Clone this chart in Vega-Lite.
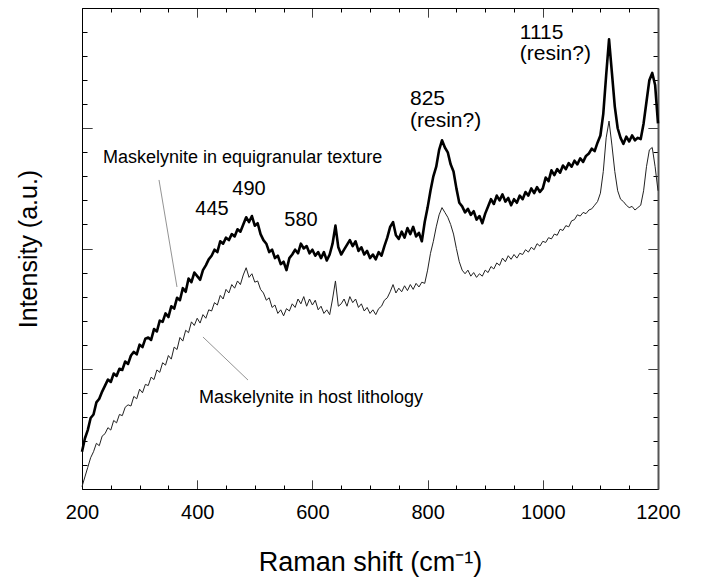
{
"$schema": "https://vega.github.io/schema/vega-lite/v6.json",
"width": 576, "height": 481,
"autosize": {"type": "none"},
"padding": {"left": 82, "top": 8, "right": 43, "bottom": 91},
"background": "white",
"config": {"font": "Liberation Sans", "view": {"stroke": null},
  "axis": {"grid": false, "domainColor": "black", "tickColor": "black", "labelColor": "black", "titleColor": "black", "titleFontWeight": "normal", "domainWidth": 1, "tickWidth": 1}},
"datasets": {"spec": [
{"x":200,"u":1.55,"l":0.10},{"x":205,"u":2.10,"l":0.50},{"x":210,"u":2.45,"l":0.90},{"x":215,"u":2.95,"l":1.30},{"x":220,"u":3.10,"l":1.55},{"x":225,"u":3.60,"l":1.90},{"x":230,"u":3.75,"l":1.80},{"x":235,"u":4.05,"l":2.20},{"x":240,"u":4.30,"l":2.30},{"x":245,"u":4.55,"l":2.55},
{"x":250,"u":4.45,"l":2.45},{"x":255,"u":4.80,"l":2.85},{"x":260,"u":4.70,"l":2.75},{"x":265,"u":5.00,"l":3.10},{"x":270,"u":4.95,"l":3.05},{"x":275,"u":5.30,"l":3.40},{"x":280,"u":5.20,"l":3.50},{"x":285,"u":5.55,"l":3.45},{"x":290,"u":5.70,"l":3.85},{"x":295,"u":5.60,"l":3.75},
{"x":300,"u":6.00,"l":4.15},{"x":305,"u":5.90,"l":4.00},{"x":310,"u":6.25,"l":4.35},{"x":315,"u":6.30,"l":4.30},{"x":320,"u":6.20,"l":4.65},{"x":325,"u":6.65,"l":4.55},{"x":330,"u":6.55,"l":4.95},{"x":335,"u":7.00,"l":4.85},{"x":340,"u":6.95,"l":5.25},{"x":345,"u":7.30,"l":5.15},
{"x":350,"u":7.15,"l":5.55},{"x":355,"u":7.60,"l":5.40},{"x":360,"u":7.50,"l":5.90},{"x":365,"u":7.95,"l":5.80},{"x":370,"u":7.85,"l":6.30},{"x":375,"u":8.35,"l":6.15},{"x":380,"u":8.20,"l":6.60},{"x":385,"u":8.75,"l":6.50},{"x":390,"u":8.60,"l":6.95},{"x":395,"u":9.00,"l":6.80},
{"x":400,"u":8.85,"l":7.10},{"x":405,"u":8.70,"l":6.90},{"x":410,"u":9.10,"l":7.25},{"x":415,"u":9.30,"l":7.10},{"x":420,"u":9.55,"l":7.45},{"x":425,"u":9.70,"l":7.40},{"x":430,"u":9.95,"l":7.75},{"x":435,"u":9.85,"l":7.65},{"x":440,"u":10.30,"l":8.05},{"x":445,"u":10.20,"l":7.90},
{"x":450,"u":10.45,"l":8.30},{"x":455,"u":10.35,"l":8.15},{"x":460,"u":10.60,"l":8.50},{"x":465,"u":10.50,"l":8.35},{"x":470,"u":10.80,"l":8.65},{"x":475,"u":10.70,"l":8.50},{"x":480,"u":11.00,"l":8.90},{"x":485,"u":11.30,"l":9.20},{"x":490,"u":11.10,"l":8.80},{"x":495,"u":11.35,"l":8.95},
{"x":500,"u":10.95,"l":8.60},{"x":505,"u":11.05,"l":8.65},{"x":510,"u":10.60,"l":8.30},{"x":515,"u":10.35,"l":8.15},{"x":520,"u":10.20,"l":7.85},{"x":525,"u":9.85,"l":7.95},{"x":530,"u":9.95,"l":7.55},{"x":535,"u":9.60,"l":7.65},{"x":540,"u":9.70,"l":7.30},{"x":545,"u":9.35,"l":7.45},
{"x":550,"u":9.45,"l":7.20},{"x":555,"u":9.10,"l":7.50},{"x":560,"u":9.60,"l":7.40},{"x":565,"u":9.75,"l":7.70},{"x":570,"u":9.95,"l":7.55},{"x":575,"u":9.80,"l":7.90},{"x":580,"u":10.20,"l":7.70},{"x":585,"u":10.00,"l":8.00},{"x":590,"u":10.10,"l":7.60},{"x":595,"u":9.80,"l":7.90},
{"x":600,"u":9.95,"l":7.65},{"x":605,"u":9.70,"l":7.85},{"x":610,"u":9.85,"l":7.45},{"x":615,"u":9.60,"l":7.60},{"x":620,"u":9.85,"l":7.30},{"x":625,"u":9.50,"l":7.45},{"x":630,"u":9.75,"l":7.25},{"x":635,"u":10.20,"l":7.90},{"x":640,"u":10.95,"l":8.65},{"x":645,"u":10.05,"l":7.60},
{"x":650,"u":9.75,"l":7.70},{"x":655,"u":9.95,"l":7.90},{"x":660,"u":10.15,"l":7.60},{"x":665,"u":10.35,"l":8.00},{"x":670,"u":10.10,"l":7.75},{"x":675,"u":10.30,"l":7.90},{"x":680,"u":9.90,"l":7.55},{"x":685,"u":10.05,"l":7.70},{"x":690,"u":9.75,"l":7.40},{"x":695,"u":9.90,"l":7.55},
{"x":700,"u":9.60,"l":7.30},{"x":705,"u":9.75,"l":7.45},{"x":710,"u":9.55,"l":7.25},{"x":715,"u":9.85,"l":7.50},{"x":720,"u":9.70,"l":7.60},{"x":725,"u":10.10,"l":7.85},{"x":730,"u":10.45,"l":7.95},{"x":735,"u":10.90,"l":8.20},{"x":740,"u":11.10,"l":8.50},{"x":745,"u":10.55,"l":8.15},
{"x":750,"u":10.40,"l":8.35},{"x":755,"u":10.70,"l":8.20},{"x":760,"u":10.45,"l":8.45},{"x":765,"u":10.85,"l":8.25},{"x":770,"u":10.60,"l":8.50},{"x":775,"u":10.90,"l":8.30},{"x":780,"u":10.50,"l":8.55},{"x":785,"u":10.65,"l":8.40},{"x":790,"u":10.30,"l":8.60},{"x":795,"u":11.10,"l":8.55},
{"x":800,"u":11.70,"l":9.10},{"x":805,"u":12.40,"l":9.80},{"x":810,"u":13.00,"l":10.30},{"x":815,"u":13.40,"l":10.90},{"x":820,"u":14.10,"l":11.40},{"x":825,"u":14.50,"l":11.70},{"x":830,"u":14.20,"l":11.50},{"x":835,"u":14.00,"l":11.30},{"x":840,"u":13.50,"l":11.00},{"x":845,"u":13.20,"l":10.60},
{"x":850,"u":12.50,"l":10.00},{"x":855,"u":11.90,"l":9.45},{"x":860,"u":11.75,"l":9.10},{"x":865,"u":11.50,"l":8.95},{"x":870,"u":11.65,"l":9.10},{"x":875,"u":11.40,"l":8.85},{"x":880,"u":11.55,"l":9.00},{"x":885,"u":11.20,"l":8.80},{"x":890,"u":11.35,"l":8.95},{"x":895,"u":11.05,"l":8.85},
{"x":900,"u":11.45,"l":9.10},{"x":905,"u":11.75,"l":9.00},{"x":910,"u":12.05,"l":9.25},{"x":915,"u":11.85,"l":9.15},{"x":920,"u":12.20,"l":9.40},{"x":925,"u":12.00,"l":9.30},{"x":930,"u":12.25,"l":9.60},{"x":935,"u":11.95,"l":9.45},{"x":940,"u":12.10,"l":9.70},{"x":945,"u":11.80,"l":9.55},
{"x":950,"u":12.05,"l":9.75},{"x":955,"u":11.90,"l":9.60},{"x":960,"u":12.20,"l":9.80},{"x":965,"u":12.05,"l":9.75},{"x":970,"u":12.35,"l":9.95},{"x":975,"u":12.20,"l":9.85},{"x":980,"u":12.50,"l":10.05},{"x":985,"u":12.30,"l":9.95},{"x":990,"u":12.55,"l":10.20},{"x":995,"u":12.35,"l":10.10},
{"x":1000,"u":12.50,"l":10.30},{"x":1005,"u":12.95,"l":10.25},{"x":1010,"u":12.80,"l":10.45},{"x":1015,"u":13.25,"l":10.40},{"x":1020,"u":13.05,"l":10.60},{"x":1025,"u":13.30,"l":10.55},{"x":1030,"u":13.15,"l":10.80},{"x":1035,"u":13.45,"l":10.75},{"x":1040,"u":13.30,"l":10.95},{"x":1045,"u":13.55,"l":10.90},
{"x":1050,"u":13.40,"l":11.15},{"x":1055,"u":13.65,"l":11.20},{"x":1060,"u":13.50,"l":11.40},{"x":1065,"u":13.75,"l":11.35},{"x":1070,"u":13.60,"l":11.50},{"x":1075,"u":13.85,"l":11.45},{"x":1080,"u":13.95,"l":11.60},{"x":1085,"u":14.15,"l":11.65},{"x":1090,"u":14.05,"l":11.80},{"x":1095,"u":14.40,"l":11.95},
{"x":1100,"u":14.70,"l":12.30},{"x":1105,"u":15.60,"l":13.20},{"x":1110,"u":17.20,"l":14.60},{"x":1115,"u":18.70,"l":15.30},{"x":1120,"u":17.30,"l":14.30},{"x":1125,"u":15.90,"l":13.20},{"x":1130,"u":15.00,"l":12.40},{"x":1135,"u":14.60,"l":12.05},{"x":1140,"u":14.35,"l":11.95},{"x":1145,"u":14.65,"l":11.80},
{"x":1150,"u":14.45,"l":11.70},{"x":1155,"u":14.70,"l":11.75},{"x":1160,"u":14.50,"l":11.60},{"x":1165,"u":14.60,"l":11.70},{"x":1170,"u":14.55,"l":11.80},{"x":1175,"u":15.20,"l":12.40},{"x":1180,"u":16.10,"l":13.40},{"x":1185,"u":17.00,"l":14.10},{"x":1190,"u":17.30,"l":14.20},{"x":1195,"u":16.80,"l":13.40},
{"x":1200,"u":15.20,"l":12.40}
]},
"layer": [
{
  "data": {"name": "spec"},
  "mark": {"type": "line", "color": "black", "strokeWidth": 2.6, "strokeJoin": "round"},
  "encoding": {
    "x": {"field": "x", "type": "quantitative", "scale": {"domain": [200, 1200], "nice": false, "zero": false},
      "axis": {"orient": "bottom", "values": [200,250,300,350,400,450,500,550,600,650,700,750,800,850,900,950,1000,1050,1100,1150,1200],
        "format": "d", "labelExpr": "datum.value % 200 === 0 ? datum.label : ''",
        "tickSize": -9, "tickDash": {"condition": {"test": "datum.value % 200 !== 0", "value": [4, 20]}, "value": [1, 0]},
        "labelFontSize": 20, "labelPadding": 22, "labelFlush": false, "labelOverlap": false,
        "title": "Raman shift (cm⁻¹)", "titleFontSize": 27, "titlePadding": 27}},
    "y": {"field": "u", "type": "quantitative", "scale": {"domain": [0, 20], "nice": false, "zero": false},
      "axis": {"orient": "left", "values": [0,1,2,3,4,5,6,7,8,9,10,11,12,13,14,15,16,17,18,19,20],
        "labels": false, "tickSize": -10, "tickDash": {"condition": {"test": "datum.value % 5 !== 0", "value": [5, 20]}, "value": [1, 0]},
        "title": "Intensity (a.u.)", "titleFontSize": 25, "titlePadding": 40}}
  }
},
{
  "data": {"name": "spec"},
  "mark": {"type": "line", "color": "#222222", "strokeWidth": 1},
  "encoding": {
    "x": {"field": "x", "type": "quantitative",
      "axis": {"orient": "top", "values": [200,250,300,350,400,450,500,550,600,650,700,750,800,850,900,950,1000,1050,1100,1150,1200],
        "labels": false, "title": null,
        "tickSize": -9, "tickDash": {"condition": {"test": "datum.value % 200 !== 0", "value": [4, 20]}, "value": [1, 0]}}},
    "y": {"field": "l", "type": "quantitative",
      "axis": {"orient": "right", "values": [0,1,2,3,4,5,6,7,8,9,10,11,12,13,14,15,16,17,18,19,20],
        "labels": false, "title": null, "domainColor": "#555555", "domainWidth": 2,
        "tickSize": -10, "tickDash": {"condition": {"test": "datum.value % 5 !== 0", "value": [5, 20]}, "value": [1, 0]}}}
  }
},
{
  "data": {"values": [
    {"x": 333.7, "y": 12.85, "x2": 364.9, "y2": 8.40},
    {"x": 410, "y": 6.32, "x2": 488.2, "y2": 4.53}
  ]},
  "mark": {"type": "rule", "color": "#777777", "strokeWidth": 0.8},
  "encoding": {
    "x": {"field": "x", "type": "quantitative", "axis": null},
    "y": {"field": "y", "type": "quantitative", "axis": null},
    "x2": {"field": "x2"},
    "y2": {"field": "y2"}
  }
},
{
  "data": {"values": [
    {"tx": 425.7, "ty": 11.39, "t": "445"},
    {"tx": 490, "ty": 12.22, "t": "490"},
    {"tx": 580.2, "ty": 10.94, "t": "580"}
  ]},
  "mark": {"type": "text", "align": "center", "baseline": "alphabetic", "fontSize": 20, "color": "black"},
  "encoding": {
    "x": {"field": "tx", "type": "quantitative", "axis": null},
    "y": {"field": "ty", "type": "quantitative", "axis": null},
    "text": {"field": "t"}
  }
},
{
  "data": {"values": [
    {"tx": 769.4, "ty": 15.97, "t": "825"},
    {"tx": 769.4, "ty": 15.05, "t": "(resin?)"},
    {"tx": 960, "ty": 18.71, "t": "1115"},
    {"tx": 960, "ty": 17.83, "t": "(resin?)"}
  ]},
  "mark": {"type": "text", "align": "left", "baseline": "alphabetic", "fontSize": 21, "color": "black"},
  "encoding": {
    "x": {"field": "tx", "type": "quantitative", "axis": null},
    "y": {"field": "ty", "type": "quantitative", "axis": null},
    "text": {"field": "t"}
  }
},
{
  "data": {"values": [
    {"tx": 236.5, "ty": 13.56, "t": "Maskelynite in equigranular texture"},
    {"tx": 403, "ty": 3.58, "t": "Maskelynite in host lithology"}
  ]},
  "mark": {"type": "text", "align": "left", "baseline": "alphabetic", "fontSize": 18, "color": "black"},
  "encoding": {
    "x": {"field": "tx", "type": "quantitative", "axis": null},
    "y": {"field": "ty", "type": "quantitative", "axis": null},
    "text": {"field": "t"}
  }
}
],
"resolve": {"axis": {"x": "independent", "y": "independent"}}
}
